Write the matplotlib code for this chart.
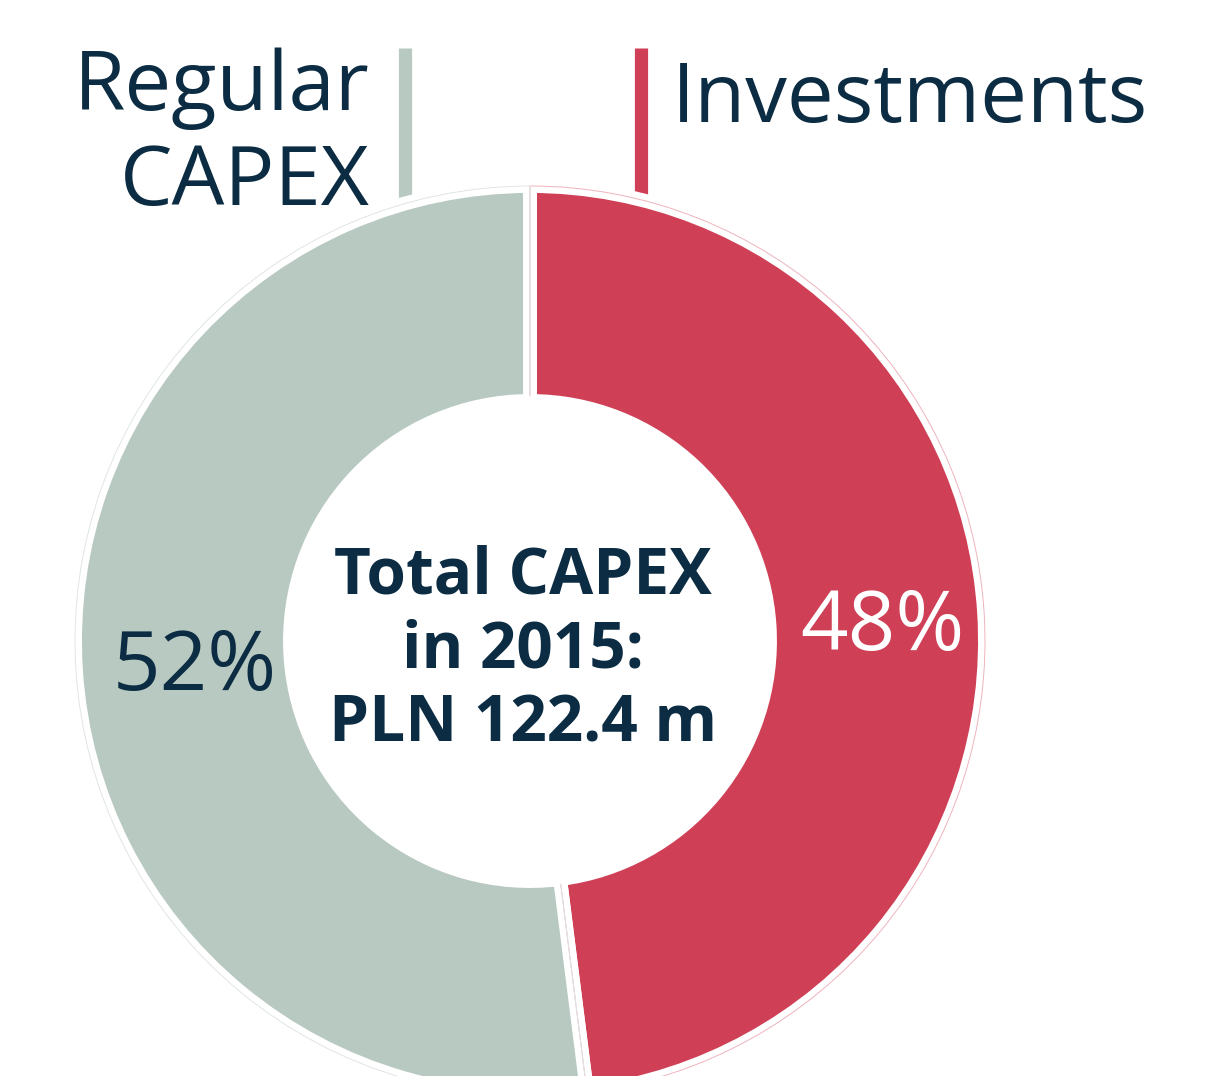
import matplotlib
matplotlib.use("Agg")
import matplotlib.pyplot as plt

# data
segments = ['Investments', 'Regular\nCAPEX']
shares = [48, 52]
pct_labels = ['48%', '52%']
center_lines = ['Total CAPEX', 'in 2015:', 'PLN 122.4 m']

# style
RED = '#cf4057'
GREY = '#b8c9c1'
NAVY = '#0b2c42'
W, H = 1216, 1076
FONT = 'Open Sans'

fig = plt.figure(figsize=(W / 100, H / 100), dpi=100)
ax = fig.add_axes([0, 0, 1, 1])

# label bars (pixel coords from top)
ax.plot([405, 405], [H - 48, H - 300], color=GREY, lw=9.5, solid_capstyle='butt', zorder=1)
ax.plot([641, 641], [H - 48, H - 300], color=RED, lw=9.5, solid_capstyle='butt', zorder=1)

cx, cy = 530, H - 641
R = 455
wd = 215
ax.pie(shares, colors=[RED, GREY], startangle=90, counterclock=False,
       center=(cx, cy), radius=R,
       wedgeprops=dict(width=wd, edgecolor='white', linewidth=10, zorder=2))
# thin outline round each wedge
ax.pie(shares, colors=['none', 'none'], startangle=90, counterclock=False,
       center=(cx, cy), radius=R,
       wedgeprops=dict(width=wd, edgecolor='none', linewidth=0, zorder=3))
for w, ec in zip(ax.patches[-2:], ['#eeb3bd', '#dfe6e3']):
    w.set_edgecolor(ec)
    w.set_linewidth(0.7)
    w.set_facecolor('none')
# hide the outline on the inner arc
ax.add_patch(plt.Circle((cx, cy), R - wd + 4, color='white', zorder=4))

ax.set_xlim(0, W)
ax.set_ylim(0, H)
ax.set_aspect('equal')
ax.axis('off')

# segment labels
lbl = dict(fontsize=60, color=NAVY, family=FONT, va='baseline', zorder=5)
ax.text(370, H - 110, segments[1].split('\n')[0], ha='right', **lbl)
ax.text(370, H - 205, segments[1].split('\n')[1], ha='right', **lbl)
ax.text(672, H - 122, segments[0], ha='left', **lbl)

# percentages
ax.text(195, H - 690, pct_labels[1], ha='center', **lbl)
lbl['color'] = 'white'
ax.text(882, H - 650, pct_labels[0], ha='center', **lbl)

# centre text
for i, line in enumerate(center_lines):
    ax.text(523, H - 593 - 74.5 * i, line, ha='center', va='baseline', zorder=5,
            fontsize=46, color=NAVY, family=FONT, fontweight='bold')

fig.savefig('out.png', dpi=100)
